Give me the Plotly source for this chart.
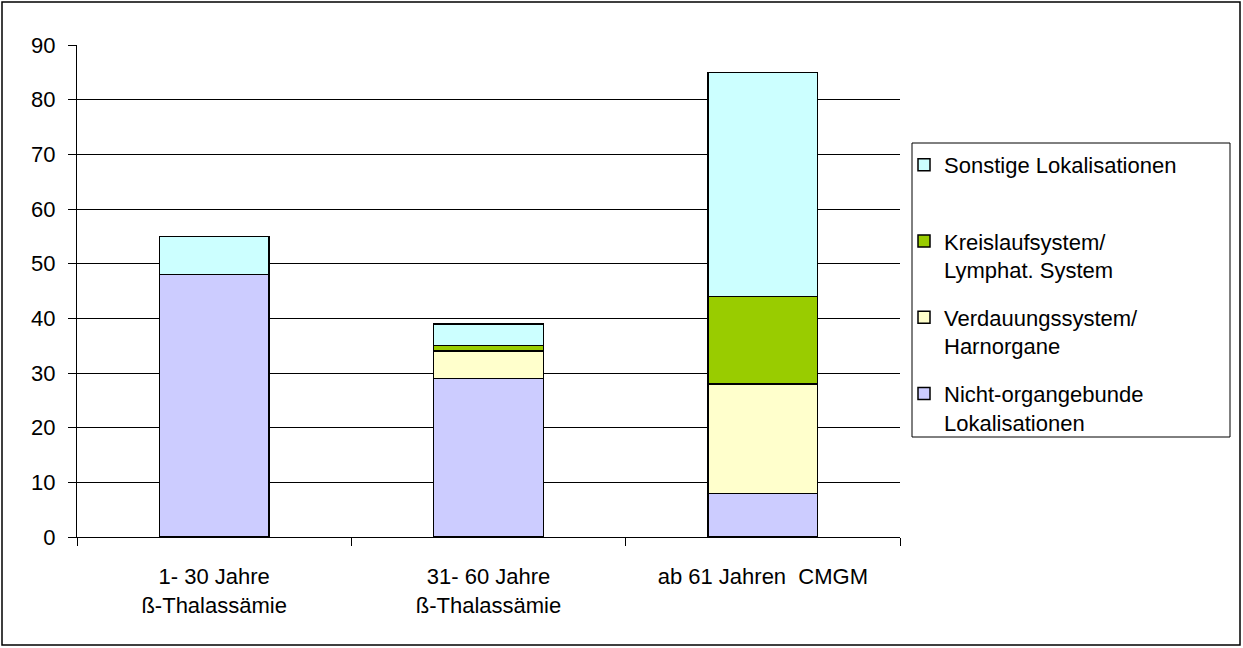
import plotly.graph_objects as go

# Age groups (x categories)
categories = [
    "1- 30 Jahre<br>ß-Thalassämie",
    "31- 60 Jahre<br>ß-Thalassämie",
    "ab 61 Jahren  CMGM",
]

# Stacked series, bottom to top
nicht_organgebunden = [48, 29, 8]
verdauung_harn = [0, 5, 20]
kreislauf_lymph = [0, 1, 16]
sonstige = [7, 4, 41]

series = [
    ("Nicht-organgebunde<br>Lokalisationen", nicht_organgebunden, "#CCCCFF"),
    ("Verdauungssystem/<br>Harnorgane", verdauung_harn, "#FFFFCC"),
    ("Kreislaufsystem/<br>Lymphat. System", kreislauf_lymph, "#99CC00"),
    ("Sonstige Lokalisationen<br> ", sonstige, "#CCFFFF"),
]

y_ticks = list(range(0, 91, 10))

FONT = "Liberation Sans, Arial, sans-serif"
FS = 22

fig = go.Figure()
n = len(series)
for i, (name, vals, color) in enumerate(series):
    fig.add_trace(go.Bar(
        x=categories,
        y=vals,
        name=name,
        legendgroup=f"g{i}",
        legendrank=n - i,  # top of the stack listed first
        marker=dict(color=color, line=dict(color="#000000", width=1.5)),
    ))

# plot area geometry in pixels
W, H = 1243, 648
L, R, T, B = 77, 343, 45, 111
pw, ph = W - L - R, H - T - B

def px_x(x):
    return (x - L) / pw

def px_y(y):
    return (H - B - y) / ph

fig.update_layout(
    width=W,
    height=H,
    barmode="stack",
    bargap=0.6,
    plot_bgcolor="#FFFFFF",
    paper_bgcolor="#FFFFFF",
    margin=dict(l=L, r=R, t=T, b=B, pad=0),
    font=dict(family=FONT, size=FS, color="#000000"),
    showlegend=True,
    legend=dict(
        x=px_x(904),
        y=px_y(144),
        xanchor="left",
        yanchor="top",
        traceorder="grouped",
        tracegroupgap=16,
        valign="top",
        bgcolor="rgba(0,0,0,0)",
        borderwidth=0,
        font=dict(family=FONT, size=FS, color="#000000"),
    ),
    xaxis=dict(
        showline=True,
        linecolor="#000000",
        linewidth=1,
        ticks="outside",
        tickson="boundaries",
        ticklen=8,
        tickcolor="#000000",
        showgrid=False,
        tickfont=dict(family=FONT, size=FS),
        ticklabelstandoff=20,
    ),
    yaxis=dict(
        range=[0, 90],
        tickvals=y_ticks,
        showline=True,
        linecolor="#000000",
        linewidth=1,
        ticks="outside",
        ticklen=8,
        tickcolor="#000000",
        showgrid=True,
        gridcolor="#000000",
        gridwidth=1,
        zeroline=False,
        tickfont=dict(family=FONT, size=FS),
        ticklabelstandoff=8,
    ),
    shapes=[
        # outer chart frame
        dict(type="rect", xref="paper", yref="paper",
             x0=px_x(2), x1=px_x(1240), y0=px_y(645), y1=px_y(2),
             line=dict(color="#000000", width=1.5), fillcolor="rgba(0,0,0,0)"),
        # legend frame
        dict(type="rect", xref="paper", yref="paper",
             x0=px_x(912), x1=px_x(1230), y0=px_y(437), y1=px_y(143),
             line=dict(color="#000000", width=1), fillcolor="rgba(0,0,0,0)"),
    ],
)

fig.write_html("out.html")
